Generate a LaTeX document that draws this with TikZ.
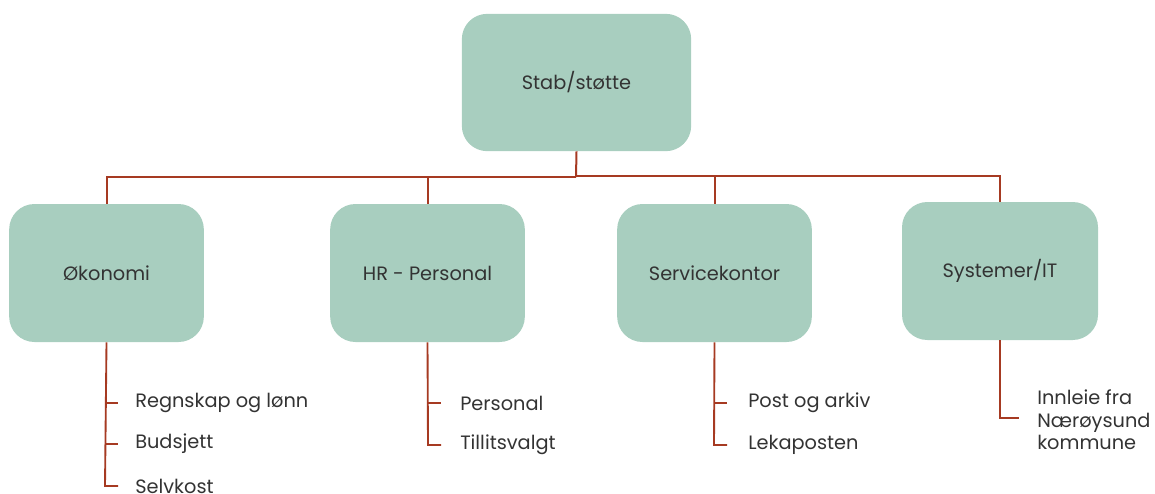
\documentclass[tikz,border=0pt]{standalone}
\usepackage{fontspec}
\setmainfont{Poppins}
\definecolor{boxgreen}{HTML}{A8CEBF}
\definecolor{linered}{HTML}{A63A22}
\definecolor{txt}{HTML}{333333}
\begin{document}
\begin{tikzpicture}[x=0.75pt,y=-0.75pt,
  box/.style={fill=boxgreen,draw=none,rounded corners=19pt,inner sep=0pt,font=\fontsize{14.5}{17}\selectfont\color{txt}},
  conn/.style={draw=linered,line width=1.5pt},
  sub/.style={conn,line width=1.4pt},
  item/.style={anchor=west,inner sep=0pt,font=\fontsize{14.5}{17}\selectfont\color{txt},align=left}]
\useasboundingbox (0,0) rectangle (1155,493);
\node[box,minimum width=172pt,minimum height=103pt] (top) at (576.5,82.5) {Stab/støtte};
\node[box,minimum width=146pt,minimum height=103.5pt] (a) at (106.5,273) {Økonomi};
\node[box,minimum width=146pt,minimum height=103.5pt] (b) at (427.5,273) {HR - Personal};
\node[box,minimum width=146pt,minimum height=103.5pt] (c) at (714.5,273) {Servicekontor};
\node[box,minimum width=147pt,minimum height=103.5pt] (d) at (1000,271) {Systemer/IT};
\coordinate (j) at (576,177);
\draw[conn] (top.south) -- (j);
\draw[conn] (j) -| (a.north);
\draw[conn] (j) -| (b.north);
\draw[conn] (j) |- (576,176) -| (c.north);
\draw[conn] (576,176) -| (d.north);
% Økonomi
\node[item] (a1) at (135,403) {Regnskap og lønn};
\node[item] (a2) at (135,444) {Budsjett};
\node[item] (a3) at (135,486) {Selvkost};
\draw[sub] (a.south) -- (105,486) -- (118,486);
\draw[sub] (105,403) -- (118,403);
\draw[sub] (105,444) -- (118,444);
% HR
\node[item] (b1) at (460,403) {Personal};
\node[item] (b2) at (460,445) {Tillitsvalgt};
\draw[sub] (b.south) -- (428,445) -- (441,445);
\draw[sub] (428,403) -- (441,403);
% Service
\node[item] (c1) at (748,403) {Post og arkiv};
\node[item] (c2) at (748,445) {Lekaposten};
\draw[sub] (c.south) -- (714,445) -- (727,445);
\draw[sub] (714,403) -- (727,403);
% Systemer
\node[item,font=\fontsize{14.5}{17}\selectfont\color{txt}] (d1) at (1037,420) {Innleie fra\\Nærøysund\\kommune};
\draw[sub] (d.south) -- (1000,418) -- (1019,418);
\end{tikzpicture}
\end{document}
